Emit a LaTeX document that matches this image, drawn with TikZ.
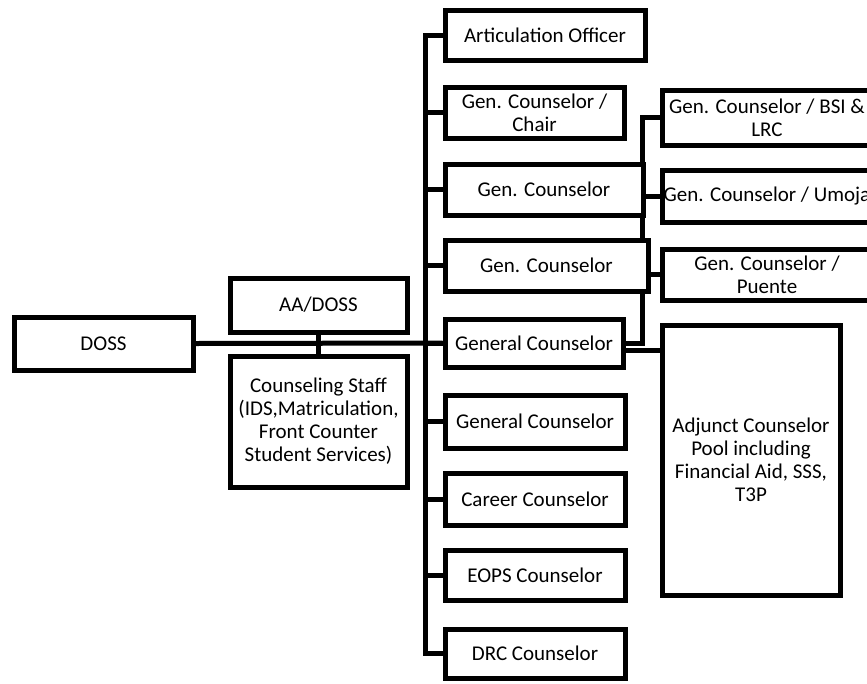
\documentclass[tikz,border=0pt]{standalone}
\usepackage{fontspec}
\setmainfont{Carlito}
\usetikzlibrary{backgrounds}
\newcommand\mybox[6]{\node[bx, minimum width={#4-#2}, minimum height={#5-#3}] (#1) at ({(#2+#4)/2},{(#3+#5)/2}) {#6};}
\begin{document}
\begin{tikzpicture}[x=1pt,y=-1pt,
 bx/.style={draw, line width=5pt, fill=white, inner sep=0pt, align=center, font=\fontsize{21}{23}\selectfont},
 ln/.style={line width=5pt}]
\useasboundingbox (0,0) rectangle (867,683);
\clip (0,0) rectangle (867,683);
\mybox{doss}{14}{317}{193}{370}{DOSS}
\mybox{aa}{230}{278}{407}{332}{AA/DOSS}
\mybox{cs}{230}{356}{407}{487}{Counseling Staff\\(IDS,Matriculation,\\Front Counter\\Student Services)}
\mybox{ao}{445}{10}{645}{60}{Articulation Officer}
\mybox{chair}{445}{87}{624}{138}{Gen. Counselor /\\Chair}
\mybox{gca}{445}{164}{643}{215}{Gen. Counselor}
\mybox{gcb}{445}{240}{648}{291}{Gen. Counselor}
\mybox{gcc}{445}{319}{623}{367}{General Counselor}
\mybox{gcd}{445}{395}{625}{448}{General Counselor}
\mybox{car}{445}{473}{625}{525}{Career Counselor}
\mybox{eops}{445}{550}{625}{600}{EOPS Counselor}
\mybox{drc}{445}{629}{625}{678}{DRC Counselor}
\mybox{bsi}{662}{90}{872}{145}{Gen. Counselor / BSI \&\\LRC}
\mybox{umo}{662}{170}{872}{222}{Gen. Counselor / Umoja}
\mybox{pue}{662}{249}{872}{300}{Gen. Counselor /\\Puente}
\mybox{adj}{662}{325}{840}{595}{Adjunct Counselor\\Pool including\\Financial Aid, SSS,\\T3P}
\coordinate (bar) at (425,0);
\coordinate (rbar) at (642,0);
\begin{scope}[on background layer]
\draw[ln] (doss.east) -- (gcc.west);
\draw[ln] (aa.south) -- (cs.north);
\draw[ln] (ao.west) -- (ao.west -| bar) -- (drc.west -| bar) -- (drc.west);
\foreach \n in {chair,gca,gcb,gcc,gcd,car,eops}
  \draw[ln] (\n.west) -- (\n.west -| bar);
\draw[ln] (gcc.east) -- (gcc.east -| rbar) -- (bsi.west -| rbar) -- (bsi.west);
\draw[ln] (umo.west) -- (umo.west -| rbar);
\draw[ln] (pue.west) -- (pue.west -| rbar);
\draw[ln] ([yshift=-7pt]gcc.east) -- ([yshift=-7pt]gcc.east -| adj.west);
\end{scope}
\end{tikzpicture}
\end{document}
